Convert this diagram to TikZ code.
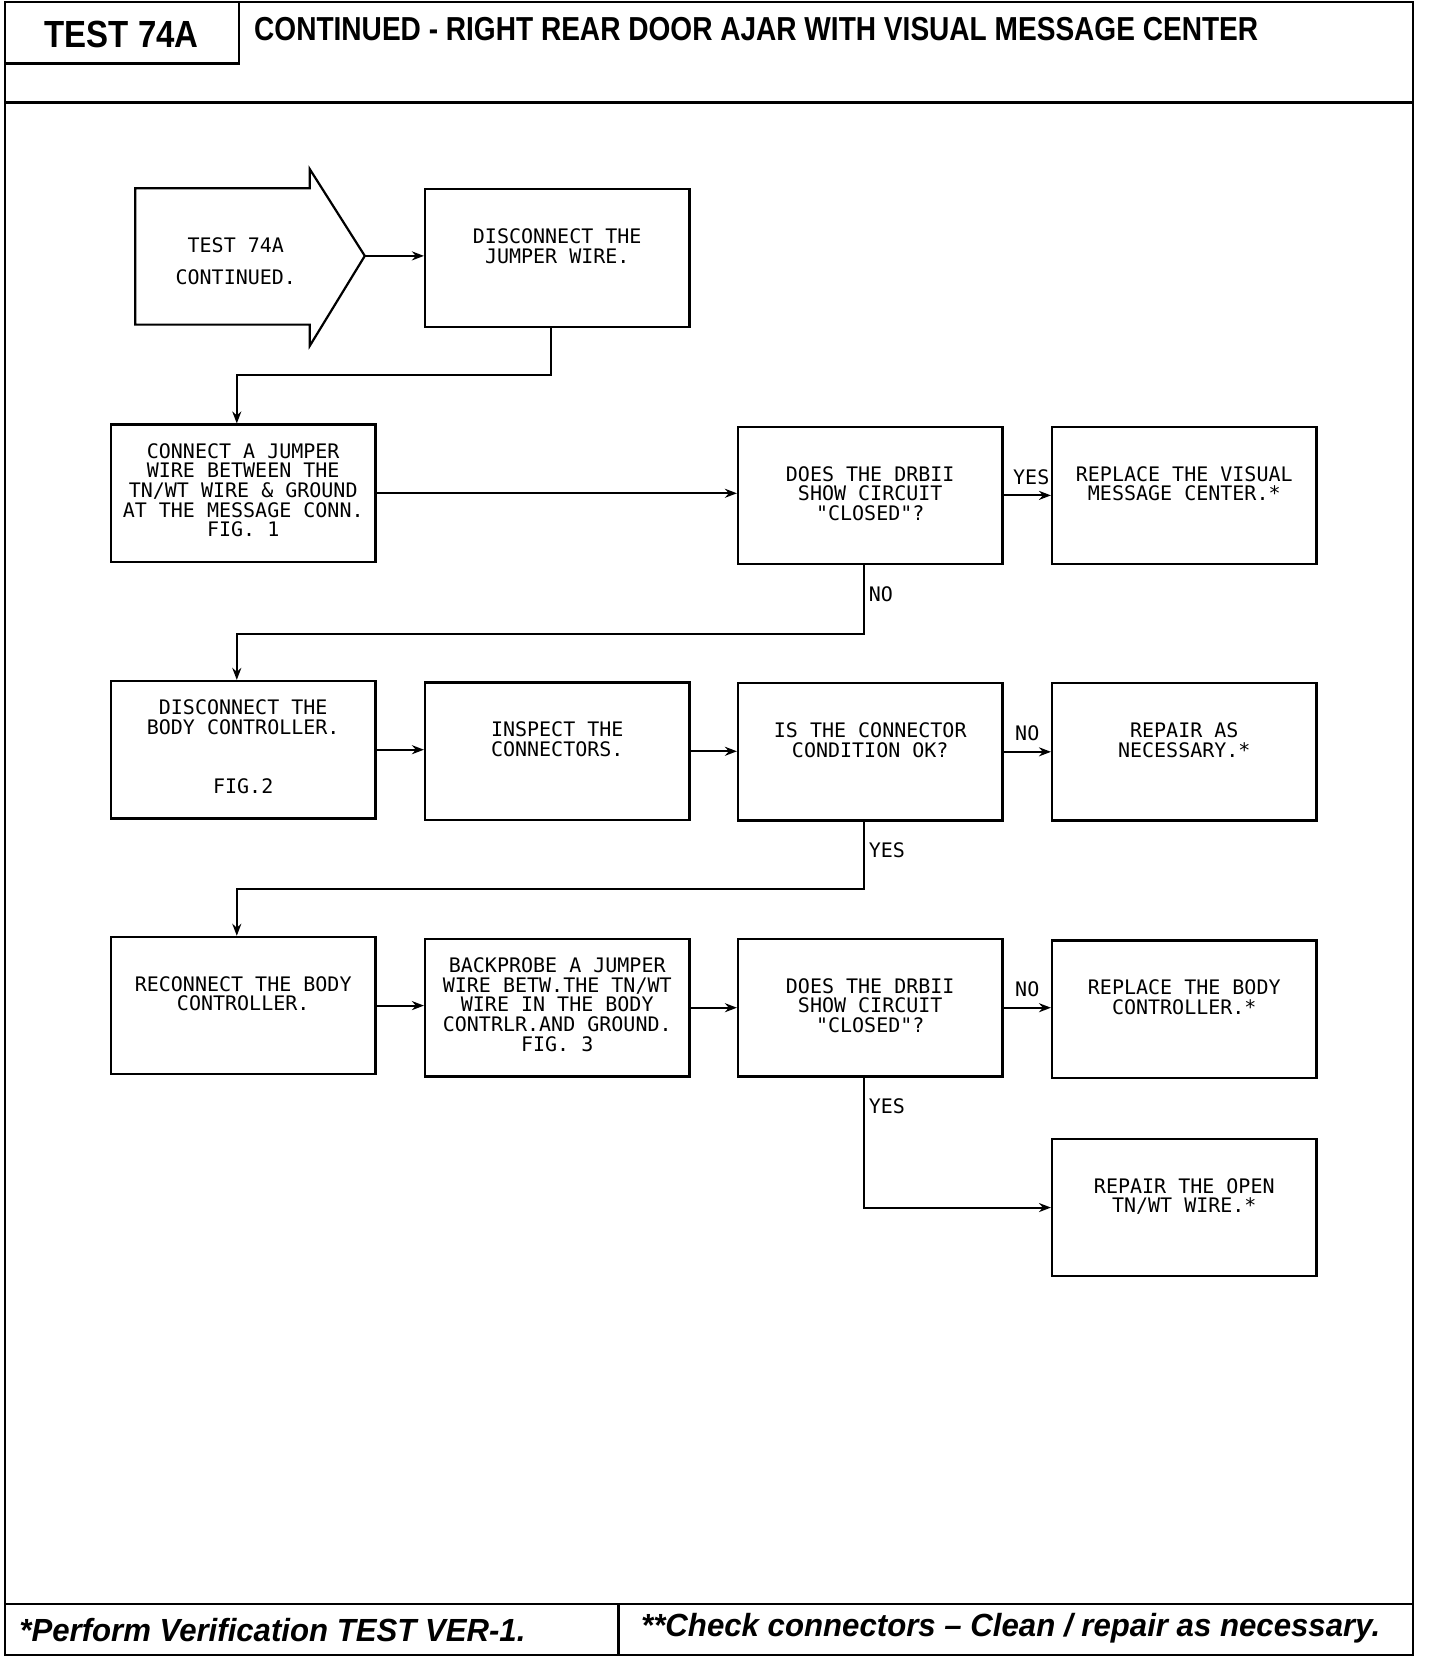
\documentclass[tikz,border=0pt]{standalone}
\usepackage{fontspec}
\setmainfont{Liberation Sans}
\newfontfamily\plotfont{DejaVu Sans Mono}
\usetikzlibrary{arrows.meta}
\tikzset{
  frame/.style={line width=1.1pt},
  box/.style={draw, line width=1.1pt, minimum width=132.2pt, minimum height=68.7pt, inner sep=0pt},
  txt/.style={font=\plotfont\fontsize{10}{9.8}\selectfont, align=center, inner sep=0pt},
  boxtext/.style={label={[txt,anchor=north,yshift=-20.1pt]north:{#1}}},
  boxtextfive/.style={label={[txt,anchor=north,yshift=-9.8pt]north:{#1}}},
  arr/.style={line width=1pt, -{Stealth[length=6pt,width=4.5pt]}},
  lbl/.style={font=\plotfont\fontsize{10}{10}\selectfont, inner sep=2pt},
  hdr/.style={anchor=base west, inner sep=0pt}
}
\begin{document}
\begin{tikzpicture}[x=0.52865pt, y=-0.52865pt]
\useasboundingbox (0,0) rectangle (1362,1568);
% frame
\draw[frame] (5,2) rectangle (1336,1565);
\draw[frame] (5,2) rectangle (226,60);
\draw[frame] (5,97) -- (1336,97);
\draw[frame] (5,1517) -- (1336,1517);
\draw[frame] (585,1517) -- (585,1565);
\node[hdr] (testno) at (42,45) {\resizebox{77pt}{13.2pt}{\bfseries TEST 74A}};
\node[hdr] (title) at (240,38) {\resizebox{502pt}{11.6pt}{\bfseries CONTINUED - RIGHT REAR DOOR AJAR WITH VISUAL MESSAGE CENTER}};
\node[hdr] (foot1) at (18,1552) {\resizebox{253pt}{11.6pt}{\bfseries\itshape *Perform Verification TEST VER-1.}};
\node[hdr] (foot2) at (606,1548) {\resizebox{369.5pt}{11.6pt}{\bfseries\itshape **Check connectors – Clean / repair as necessary.}};
% start arrow
\draw[line width=1.1pt] (128,178) -- (293,178) -- (293,160) -- (345,242) -- (293,327) -- (293,307) -- (128,307) -- cycle;
\coordinate (tip) at (345,242);
\node[font=\plotfont\fontsize{10}{15.9}\selectfont, align=center, inner sep=0pt] (start) at (223,247) {TEST 74A\\CONTINUED.};
% boxes
\node[box, boxtext={DISCONNECT THE\\JUMPER WIRE.}] (b1) at (527,244) {};
\node[box, boxtextfive={CONNECT A JUMPER\\WIRE BETWEEN THE\\TN/WT WIRE \& GROUND\\AT THE MESSAGE CONN.\\FIG. 1}] (b2) at (230,466.5) {};
\node[box, boxtext={DOES THE DRBII\\SHOW CIRCUIT\\"CLOSED"?}] (q1) at (823,468.5) {};
\node[box, boxtext={REPLACE THE VISUAL\\MESSAGE CENTER.*}] (r1) at (1120,468.5) {};
\node[box, boxtextfive={DISCONNECT THE\\BODY CONTROLLER.\\[19.6pt]FIG.2}] (b3) at (230,709) {};
\node[box, boxtext={INSPECT THE\\CONNECTORS.}] (b4) at (527,710.5) {};
\node[box, boxtext={IS THE CONNECTOR\\CONDITION OK?}] (q2) at (823,711) {};
\node[box, boxtext={REPAIR AS\\NECESSARY.*}] (r2) at (1120,711) {};
\node[box, boxtext={RECONNECT THE BODY\\CONTROLLER.}] (b5) at (230,951) {};
\node[box, boxtextfive={BACKPROBE A JUMPER\\WIRE BETW.THE TN/WT\\WIRE IN THE BODY\\CONTRLR.AND GROUND.\\FIG. 3}] (b6) at (527,953) {};
\node[box, boxtext={DOES THE DRBII\\SHOW CIRCUIT\\"CLOSED"?}] (q3) at (823,953) {};
\node[box, boxtext={REPLACE THE BODY\\CONTROLLER.*}] (r3) at (1120,954.5) {};
\node[box, boxtext={REPAIR THE OPEN\\TN/WT WIRE.*}] (r4) at (1120,1142) {};
% connectors
\draw[arr] (tip) -- (tip -| b1.west);
\draw[arr] ([xshift=-3.2pt]b1.south) -- ++(0,45) -| ([xshift=-3.2pt]b2.north);
\draw[arr] (b2.east) -- (b2.east -| q1.west);
\draw[arr] (q1.east) -- node[lbl, above=3pt, xshift=2pt] {YES} (q1.east -| r1.west);
\draw[arr] ([xshift=-3.2pt]q1.south) -- node[lbl, right, pos=0.42] {NO} ++(0,65) -| ([xshift=-3.2pt]b3.north);
\draw[arr] (b3.east) -- (b3.east -| b4.west);
\draw[arr] (b4.east) -- (b4.east -| q2.west);
\draw[arr] (q2.east) -- node[lbl, above=3pt] {NO} (q2.east -| r2.west);
\draw[arr] ([xshift=-3.2pt]q2.south) -- node[lbl, right, pos=0.42] {YES} ++(0,64) -| ([xshift=-3.2pt]b5.north);
\draw[arr] (b5.east) -- (b5.east -| b6.west);
\draw[arr] (b6.east) -- (b6.east -| q3.west);
\draw[arr] (q3.east) -- node[lbl, above=3pt] {NO} (q3.east -| r3.west);
\draw[arr] ([xshift=-3.2pt]q3.south) |- node[lbl, right, pos=0.11] {YES} (r4.west);
\end{tikzpicture}
\end{document}
